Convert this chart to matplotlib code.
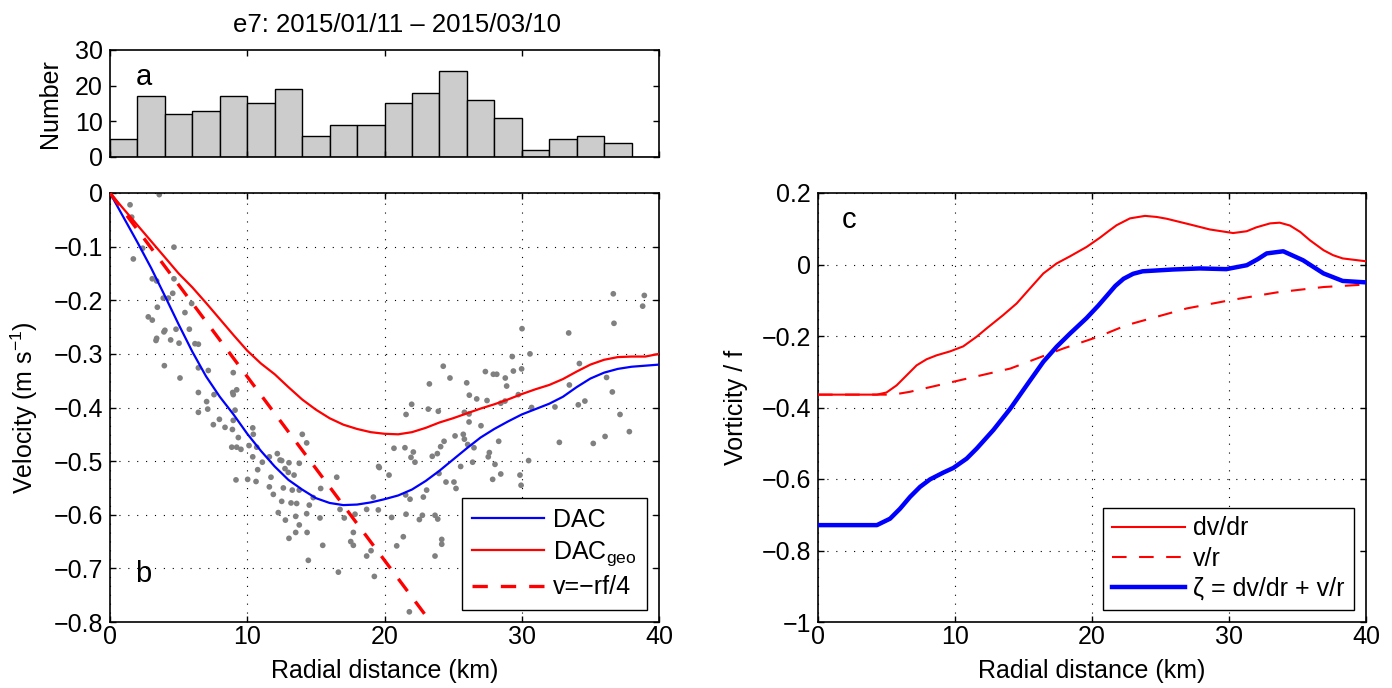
import matplotlib
matplotlib.use("Agg")
import matplotlib.pyplot as plt
import numpy as np
from matplotlib.ticker import FuncFormatter

plt.rcParams['font.family'] = ['Liberation Sans', 'DejaVu Sans']
plt.rcParams['mathtext.fontset'] = 'custom'
plt.rcParams['mathtext.rm'] = 'Liberation Sans'
plt.rcParams['mathtext.it'] = 'Liberation Sans:italic'
plt.rcParams['mathtext.bf'] = 'Liberation Sans:bold'
plt.rcParams['axes.unicode_minus'] = True

# ---------------- data ----------------
title_text = "e7: 2015/01/11 \u2013 2015/03/10"

hist_edges = [0, 2, 4, 6, 8, 10, 12, 14, 16, 18, 20, 22, 24, 26, 28, 30, 32, 34, 36, 38, 40]
hist_counts = [5, 17, 12, 13, 17, 15, 19, 6, 9, 9, 15, 18, 24, 16, 11, 2, 5, 6, 4, 0]

scatter_r = [
    3.59, 1.46, 1.58, 2.38, 4.66, 1.70, 3.08, 3.40, 4.66, 4.57, 4.25, 3.88, 5.95, 3.45, 2.79, 3.08,
    5.46, 4.00, 3.93, 4.81, 5.78, 3.40, 3.35, 4.42, 5.03, 6.19, 6.44, 3.96, 5.10, 6.44, 7.16, 8.98,
    9.23, 8.94, 8.98, 6.44, 7.58, 7.04,
    6.44, 7.12, 9.11, 7.97, 7.53, 8.38, 8.92, 8.98, 10.40, 10.44, 9.35, 8.87, 9.23, 9.54, 10.13, 10.69,
    10.40, 11.10, 11.61, 12.19, 12.39, 12.51, 13.04, 13.79, 10.76, 12.75, 12.99, 13.41, 9.18, 10.03,
    10.64, 11.73, 11.61, 11.90, 12.63, 13.28, 13.79, 12.51, 13.19, 13.60, 14.52, 12.26, 12.78, 13.53,
    14.33, 13.79, 13.53, 14.36, 13.04, 14.45, 15.35, 16.52, 14.01, 14.33, 14.81, 15.30, 15.50, 16.76,
    17.07, 17.85, 17.73, 17.54, 17.73, 16.64, 18.70, 19.02, 19.26, 18.70, 19.55, 19.19, 19.57,
    36.67, 38.93, 38.81, 36.72, 30.02, 33.42, 30.60, 29.31, 24.28, 27.35, 27.93, 28.18, 29.39, 29.99,
    34.20, 24.77, 28.80, 28.90, 23.27, 25.99, 33.47, 36.18, 36.60, 26.18, 26.72, 27.47, 29.75, 21.98,
    28.47, 28.78, 34.12, 34.60,
    21.57, 23.19, 23.92, 25.82, 26.16, 26.16, 27.03, 30.72, 32.42, 37.16, 37.84, 36.07, 35.21, 32.74,
    20.69, 21.49, 22.10, 21.93, 22.22, 24.34, 24.09, 23.85, 23.48, 25.14, 25.82, 26.06, 26.52, 25.74,
    28.32, 27.64, 27.56, 26.42, 25.55, 28.05, 28.47, 27.88, 29.87, 29.95, 30.50, 23.97, 24.48, 25.06,
    25.21, 19.62, 20.33, 23.07, 22.83, 21.54, 21.86, 20.52, 21.57, 22.54, 22.76, 23.68, 23.88, 21.37,
    20.89, 24.17, 24.17, 23.68, 21.81,
]
scatter_v = [
    -0.003, -0.022, -0.045, -0.103, -0.101, -0.123, -0.160, -0.164, -0.160, -0.187, -0.196, -0.196,
    -0.206, -0.213, -0.231, -0.237, -0.223, -0.256, -0.259, -0.254, -0.254, -0.271, -0.275, -0.274,
    -0.280, -0.281, -0.282, -0.322, -0.345, -0.326, -0.331, -0.335, -0.367, -0.372, -0.376, -0.372,
    -0.376, -0.389,
    -0.409, -0.403, -0.405, -0.422, -0.432, -0.437, -0.441, -0.424, -0.438, -0.450, -0.456, -0.474,
    -0.474, -0.478, -0.471, -0.474, -0.492, -0.502, -0.492, -0.486, -0.498, -0.499, -0.503, -0.504,
    -0.516, -0.514, -0.521, -0.526, -0.535, -0.534, -0.538, -0.530, -0.548, -0.562, -0.550, -0.554,
    -0.554, -0.575, -0.578, -0.579, -0.582, -0.596, -0.610, -0.603, -0.598, -0.619, -0.633, -0.633,
    -0.644, -0.685, -0.551, -0.530, -0.450, -0.466, -0.568, -0.606, -0.657, -0.590, -0.606, -0.599,
    -0.633, -0.650, -0.657, -0.707, -0.677, -0.667, -0.715, -0.590, -0.591, -0.567, -0.510,
    -0.188, -0.191, -0.211, -0.243, -0.253, -0.261, -0.300, -0.305, -0.323, -0.333, -0.338, -0.338,
    -0.332, -0.328, -0.318, -0.345, -0.345, -0.360, -0.356, -0.354, -0.358, -0.344, -0.371, -0.377,
    -0.384, -0.387, -0.376, -0.394, -0.392, -0.388, -0.395, -0.388,
    -0.413, -0.403, -0.407, -0.409, -0.412, -0.427, -0.434, -0.400, -0.399, -0.413, -0.445, -0.454,
    -0.467, -0.465, -0.476, -0.475, -0.483, -0.493, -0.502, -0.463, -0.473, -0.486, -0.491, -0.453,
    -0.459, -0.469, -0.475, -0.450, -0.463, -0.484, -0.492, -0.502, -0.510, -0.506, -0.524, -0.534,
    -0.526, -0.545, -0.499, -0.523, -0.539, -0.539, -0.551, -0.512, -0.526, -0.554, -0.567, -0.563,
    -0.571, -0.605, -0.599, -0.609, -0.601, -0.601, -0.608, -0.641, -0.658, -0.646, -0.655, -0.677,
    -0.781,
]

dac_r = [0, 1, 2, 3, 4, 5, 6, 7, 8, 9, 10, 11, 12, 13, 14, 15, 16, 17, 18, 19, 20,
         21, 22, 23, 24, 25, 26, 27, 28, 29, 30, 31, 32, 33, 34, 35, 36, 37, 38, 39, 40]
dac_v = [0.0, -0.046, -0.092, -0.140, -0.192, -0.245, -0.296, -0.342, -0.380, -0.413, -0.449,
         -0.481, -0.510, -0.535, -0.553, -0.569, -0.578, -0.582, -0.581, -0.577, -0.571,
         -0.564, -0.553, -0.537, -0.518, -0.497, -0.476, -0.456, -0.440, -0.426, -0.413,
         -0.403, -0.393, -0.380, -0.362, -0.346, -0.335, -0.328, -0.324, -0.322, -0.320]

geo_r = dac_r
geo_v = [0.0, -0.030, -0.060, -0.090, -0.120, -0.150, -0.176, -0.205, -0.235, -0.265, -0.294,
         -0.318, -0.338, -0.362, -0.385, -0.404, -0.420, -0.432, -0.440, -0.446, -0.449,
         -0.450, -0.446, -0.438, -0.428, -0.420, -0.411, -0.402, -0.394, -0.385, -0.375,
         -0.366, -0.358, -0.347, -0.333, -0.320, -0.311, -0.306, -0.305, -0.305, -0.300]

f_cor = 1.37e-4          # Coriolis parameter (s^-1)
solid_r = [0, 40]        # km, for v = -r f / 4

dvdr_r = [0, 2, 4.3, 5.0, 5.74, 6.47, 7.2, 7.93, 8.66, 9.64, 10.6, 11.58, 12.3, 13.5, 14.5,
          15.47, 16.45, 17.42, 18.4, 19.6, 20.58, 21.3, 21.8, 22.77, 23.87, 24.72, 25.45, 27.15,
          28.6, 30.3, 31.29, 32.0, 33.0, 33.7, 34.45, 35.2, 35.9, 36.9, 37.6, 38.3, 40]
dvdr_v = [-0.364, -0.364, -0.364, -0.358, -0.338, -0.310, -0.282, -0.265, -0.254, -0.243,
          -0.229, -0.202, -0.179, -0.142, -0.109, -0.067, -0.025, 0.003, 0.023, 0.049, 0.075,
          0.096, 0.110, 0.129, 0.136, 0.133, 0.128, 0.112, 0.098, 0.088, 0.093, 0.104, 0.115,
          0.117, 0.109, 0.091, 0.068, 0.040, 0.026, 0.017, 0.009]

vr_r = [0, 5.5, 6.72, 9.88, 14.04, 17.9, 20.46, 22.5, 26.9, 30.07, 33.5, 36.9, 40]
vr_v = [-0.364, -0.364, -0.356, -0.328, -0.291, -0.235, -0.202, -0.170, -0.123, -0.100,
        -0.078, -0.063, -0.056]

zeta_r = [0, 2, 4.3, 5.26, 5.99, 6.72, 7.45, 8.18, 9.15, 9.88, 10.85, 11.58, 12.8, 14.04,
          15.23, 16.45, 17.42, 18.4, 19.6, 20.46, 21.07, 21.7, 22.3, 23.0, 23.7, 25.9, 27.86,
          29.8, 31.3, 32.1, 32.75, 33.96, 35.4, 36.9, 38.3, 40]
zeta_v = [-0.729, -0.729, -0.729, -0.711, -0.683, -0.650, -0.622, -0.601, -0.582, -0.569,
          -0.543, -0.515, -0.463, -0.403, -0.338, -0.272, -0.230, -0.193, -0.150, -0.115,
          -0.088, -0.060, -0.040, -0.026, -0.019, -0.014, -0.011, -0.013, -0.002, 0.015,
          0.031, 0.037, 0.012, -0.025, -0.046, -0.050]

# ---------------- figure ----------------
W, H = 1392, 688
fig = plt.figure(figsize=(W / 100, H / 100), dpi=100)

def axpos(x0, y0, x1, y1):
    return [x0 / W, 1 - y1 / H, (x1 - x0) / W, (y1 - y0) / H]

FS = 18
fmt = FuncFormatter(lambda v, p: ('%g' % round(v, 6)).replace('-', '\u2212'))

def style(ax, grid=True):
    for s in ax.spines.values():
        s.set_linewidth(1.2)
    ax.tick_params(direction='in', top=True, right=True, length=4, width=1.0,
                   labelsize=FS)
    ax.tick_params(axis='x', pad=2)
    ax.tick_params(axis='y', pad=5)
    if grid:
        ax.grid(True, color='black', linestyle=(0, (1, 7)), linewidth=0.8)

# Histogram (a)
ax_a = fig.add_axes(axpos(110, 50, 659, 157))
ax_a.bar(hist_edges[:-1], hist_counts, width=np.diff(hist_edges), align='edge',
         color='#cccccc', edgecolor='black', linewidth=1.0)
ax_a.set_xlim(0, 40)
ax_a.set_ylim(0, 30)
ax_a.set_xticks([0, 10, 20, 30, 40])
ax_a.set_xticklabels([])
ax_a.set_yticks([0, 10, 20, 30])
style(ax_a, grid=False)
ax_a.set_ylabel('Number', fontsize=FS)
ax_a.yaxis.set_label_coords(-0.088, 0.5)
ax_a.text(0.061, 0.673, 'a', transform=ax_a.transAxes, fontsize=21, ha='center', va='baseline')
fig.text(397 / W, 1 - 31.7 / H, title_text, fontsize=18.5, ha='center', va='baseline')

# Velocity (b)
ax_b = fig.add_axes(axpos(110, 193, 659, 622))
ax_b.scatter(scatter_r, scatter_v, s=17, color='#808080', edgecolors='none', zorder=2)
ax_b.plot(dac_r, dac_v, color='blue', lw=1.6, label='DAC', zorder=3)
ax_b.plot(geo_r, geo_v, color='red', lw=1.6, label='DAC$_{\\rm geo}$', zorder=3)
dash_v = [-r * 1000.0 * f_cor / 4.0 for r in solid_r]
ax_b.plot(solid_r, dash_v, color='red', lw=2.4, dashes=(4.6, 3.9), label='v=\u2212rf/4', zorder=3)
ax_b.set_xlim(0, 40)
ax_b.set_ylim(-0.8, 0)
ax_b.set_xticks([0, 10, 20, 30, 40])
ax_b.set_yticks([0, -0.1, -0.2, -0.3, -0.4, -0.5, -0.6, -0.7, -0.8])
ax_b.xaxis.set_major_formatter(fmt)
ax_b.yaxis.set_major_formatter(fmt)
style(ax_b)
ax_b.set_xlabel('Radial distance (km)', fontsize=FS)
ax_b.xaxis.set_label_coords(0.5, -0.086)
ax_b.set_ylabel('Velocity (m s$^{-1}$)', fontsize=FS)
ax_b.yaxis.set_label_coords(-0.128, 0.5)
ax_b.text(0.061, 0.094, 'b', transform=ax_b.transAxes, fontsize=21, ha='center', va='baseline')
leg = ax_b.legend(loc='lower right', fontsize=FS, frameon=True, fancybox=False, framealpha=1,
                  edgecolor='black', handlelength=2.9, handletextpad=0.35, borderpad=0.4,
                  labelspacing=0.3, borderaxespad=0.5)
leg.get_frame().set_linewidth(1.0)

# Vorticity (c)
ax_c = fig.add_axes(axpos(818, 193, 1366, 622))
ax_c.plot(dvdr_r, dvdr_v, color='red', lw=1.5, label='dv/dr', zorder=3)
ax_c.plot(vr_r, vr_v, color='red', lw=1.5, dashes=(7, 6), label='v/r', zorder=3)
ax_c.plot(zeta_r, zeta_v, color='blue', lw=3.2, label='\u03b6 = dv/dr + v/r', zorder=3)
ax_c.set_xlim(0, 40)
ax_c.set_ylim(-1, 0.2)
ax_c.set_xticks([0, 10, 20, 30, 40])
ax_c.set_yticks([0.2, 0, -0.2, -0.4, -0.6, -0.8, -1])
ax_c.xaxis.set_major_formatter(fmt)
ax_c.yaxis.set_major_formatter(fmt)
style(ax_c)
ax_c.set_xlabel('Radial distance (km)', fontsize=FS)
ax_c.xaxis.set_label_coords(0.5, -0.086)
ax_c.set_ylabel('Vorticity / f', fontsize=FS)
ax_c.yaxis.set_label_coords(-0.128, 0.5)
ax_c.text(0.0575, 0.918, 'c', transform=ax_c.transAxes, fontsize=21, ha='center', va='baseline')
leg2 = ax_c.legend(loc='lower right', fontsize=FS, frameon=True, fancybox=False, framealpha=1,
                   edgecolor='black', handlelength=2.9, handletextpad=0.35, borderpad=0.35,
                   labelspacing=0.25, borderaxespad=0.5)
leg2.get_frame().set_linewidth(1.0)

fig.savefig('out.png', dpi=100)
